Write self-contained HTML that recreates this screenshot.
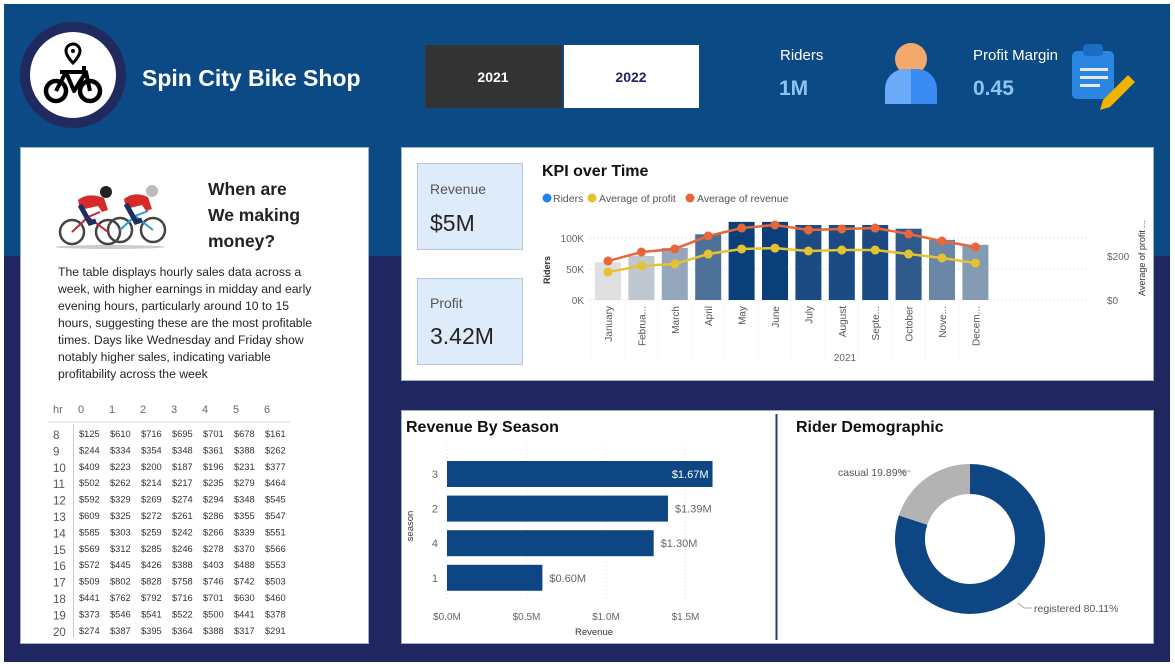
<!DOCTYPE html>
<html><head><meta charset="utf-8"><style>
html,body{margin:0;padding:0;background:#fff;width:1175px;height:664px;overflow:hidden}
svg{display:block;font-family:"Liberation Sans",sans-serif}
</style></head><body>
<svg id="dash" width="1175" height="664" viewBox="0 0 1175 664">
<rect x="4" y="4" width="1166" height="252" fill="#0b4a84"/>
<rect x="4" y="256" width="1166" height="406" fill="#1f2660"/>

<!-- logo -->
<g>
<circle cx="73" cy="75" r="53" fill="#212a5e"/>
<circle cx="73" cy="75" r="43" fill="#fff"/>
<path d="M73 44 a7 7 0 0 1 7 7 c0 5 -7 12 -7 12 c0 0 -7 -7 -7 -12 a7 7 0 0 1 7 -7z" fill="none" stroke="#000" stroke-width="3"/>
<circle cx="73" cy="51" r="2" fill="#000"/>
<circle cx="56" cy="91" r="10" fill="none" stroke="#000" stroke-width="4.5"/>
<circle cx="90" cy="91" r="10" fill="none" stroke="#000" stroke-width="4.5"/>
<path d="M56 91 L66 72 L86 72 L90 91 M60 72 h12 M66 72 L74 91 L86 72 M84 66 v6" fill="none" stroke="#000" stroke-width="4" stroke-linejoin="round"/>
</g>
<text x="142" y="86" font-size="23" font-weight="bold" fill="#fff">Spin City Bike Shop</text>

<!-- year slicer -->
<rect x="425" y="45" width="137" height="63" fill="#333"/>
<text x="493" y="82" text-anchor="middle" font-size="14" font-weight="bold" fill="#fff">2021</text>
<rect x="564" y="45" width="135" height="63" fill="#fff"/>
<text x="631" y="82" text-anchor="middle" font-size="14" font-weight="bold" fill="#1f2660">2022</text>

<!-- header KPIs -->
<text x="780" y="60" font-size="15" fill="#fff">Riders</text>
<text x="779" y="95" font-size="21" font-weight="bold" fill="#8ec3f4">1M</text>
<g>
<circle cx="911" cy="59" r="16" fill="#f4a86b"/>
<path d="M885 104 v-15 a20 20 0 0 1 20 -20 h12 a20 20 0 0 1 20 20 v15 z" fill="#3b8cf2"/>
<path d="M885 104 v-15 a20 20 0 0 1 20 -20 h6 v35 z" fill="#6aaaf7"/>
</g>
<text x="973" y="60" font-size="15" fill="#fff">Profit Margin</text>
<text x="973" y="95" font-size="21" font-weight="bold" fill="#8ec3f4">0.45</text>
<g>
<rect x="1072" y="51" width="42" height="48" rx="5" fill="#2a86e0"/>
<rect x="1083" y="44" width="20" height="12" rx="4" fill="#1a6cc4"/>
<rect x="1080" y="68" width="28" height="3" fill="#e8e8e8"/><rect x="1080" y="76" width="28" height="3" fill="#e8e8e8"/><rect x="1080" y="84" width="20" height="3" fill="#e8e8e8"/>
<path d="M1103 100 l25 -25 l7 7 l-25 25 l-10 3z" fill="#f0b400"/>
</g>

<!-- left panel -->
<rect x="20.5" y="147.5" width="348" height="496" fill="#fff" stroke="#9fb1c9"/>
<g>
<ellipse cx="110" cy="247" rx="55" ry="2" fill="#ccc"/>
<circle cx="72" cy="232" r="12" fill="none" stroke="#444" stroke-width="2.5"/>
<circle cx="108" cy="232" r="12" fill="none" stroke="#444" stroke-width="2.5"/>
<circle cx="120" cy="230" r="12" fill="none" stroke="#444" stroke-width="2.5"/>
<circle cx="153" cy="230" r="12" fill="none" stroke="#444" stroke-width="2.5"/>
<path d="M72 232 L88 217 L108 232 M88 217 L100 212" stroke="#c0243a" stroke-width="2" fill="none"/>
<path d="M120 230 L135 216 L153 230 M135 216 L148 211" stroke="#2a9ad6" stroke-width="2" fill="none"/>
<path d="M78 200 q10 -8 26 -2 l4 12 l-6 2 l-4 -6 l-18 4 z" fill="#d72b2b"/>
<path d="M124 199 q10 -8 24 -2 l4 12 l-6 2 l-4 -6 l-16 4 z" fill="#d72b2b"/>
<circle cx="106" cy="192" r="6" fill="#222"/><circle cx="152" cy="191" r="6" fill="#bbb"/>
<path d="M80 205 l10 18 l6 -2 M126 204 l10 18 l6 -2" stroke="#1e2e5e" stroke-width="5" fill="none"/>
</g>
<g font-size="17.5" font-weight="bold" fill="#222">
<text x="208" y="195">When are</text><text x="208" y="221">We making</text><text x="208" y="247">money?</text>
</g>
<g font-size="12.2" fill="#252423">
<text x="58" y="276">The table displays hourly sales data across a</text>
<text x="58" y="293">week, with higher earnings in midday and early</text>
<text x="58" y="310">evening hours, particularly around 10 to 15</text>
<text x="58" y="327">hours, suggesting these are the most profitable</text>
<text x="58" y="344">times. Days like Wednesday and Friday show</text>
<text x="58" y="361">notably higher sales, indicating variable</text>
<text x="58" y="378">profitability across the week</text>
</g>
<g id="tbl"></g>

<!-- KPI panel -->
<rect x="401.5" y="147.5" width="752" height="233" fill="#fff" stroke="#9fb1c9"/>
<rect x="417.5" y="163.5" width="105" height="86" fill="#deebfb" stroke="#b5c6dc"/>
<text x="430" y="194" font-size="14" fill="#555">Revenue</text>
<text x="430" y="231" font-size="23" fill="#252423">$5M</text>
<rect x="417.5" y="278.5" width="105" height="86" fill="#deebfb" stroke="#b5c6dc"/>
<text x="430" y="308" font-size="14" fill="#555">Profit</text>
<text x="430" y="344" font-size="23" fill="#252423">3.42M</text>
<text x="542" y="176" font-size="16" font-weight="bold" fill="#111">KPI over Time</text>
<g font-size="10.5" fill="#555">
<circle cx="547" cy="198" r="4.5" fill="#1f84f0"/><text x="553" y="202">Riders</text>
<circle cx="592" cy="198" r="4.5" fill="#e4c232"/><text x="599" y="202">Average of profit</text>
<circle cx="690" cy="198" r="4.5" fill="#e8663a"/><text x="697" y="202">Average of revenue</text>
</g>
<g id="kpi"></g>

<!-- revenue by season -->
<rect x="401.5" y="410.5" width="752" height="233" fill="#fff" stroke="#9fb1c9"/>
<line x1="776.5" y1="414" x2="776.5" y2="640" stroke="#1f3f7a" stroke-width="2"/>
<text x="406" y="432" font-size="16" font-weight="bold" fill="#111">Revenue By Season</text>
<g id="season"></g>

<!-- donut -->
<text x="796" y="432" font-size="16" font-weight="bold" fill="#111">Rider Demographic</text>
<g id="donut"></g>
</svg>
<script>
const NS='http://www.w3.org/2000/svg';
function mk(p,tag,a,txt){const e=document.createElementNS(NS,tag);for(const k in a)e.setAttribute(k,a[k]);if(txt!==undefined)e.textContent=txt;p.appendChild(e);return e;}

// ---- hourly table data
const tableHours=[8,9,10,11,12,13,14,15,16,17,18,19,20];
const tableDays=[0,1,2,3,4,5,6];
const tableValues=[
[125,610,716,695,701,678,161],[244,334,354,348,361,388,262],[409,223,200,187,196,231,377],
[502,262,214,217,235,279,464],[592,329,269,274,294,348,545],[609,325,272,261,286,355,547],
[585,303,259,242,266,339,551],[569,312,285,246,278,370,566],[572,445,426,388,403,488,553],
[509,802,828,758,746,742,503],[441,762,792,716,701,630,460],[373,546,541,522,500,441,378],
[274,387,395,364,388,317,291]];
// ---- KPI chart data
const months=['January','Februa...','March','April','May','June','July','August','Septe...','October','Nove...','Decem...'];
const riders=[61000,71000,84000,106000,126000,126000,121000,121000,121000,115000,97000,89000];
const avgProfit=[127,155,164,209,232,236,223,227,227,209,191,168];
const avgRevenue=[177,218,232,291,327,341,318,323,327,300,268,241];
const leftTicks=[0,50000,100000];
const leftTickLabels=['0K','50K','100K'];
const rightTicks=[0,200];
const rightTickLabels=['$0','$200'];
// ---- season data
const seasons=['3','2','4','1'];
const seasonRevenue=[1.67,1.39,1.30,0.60];
const seasonLabels=['$1.67M','$1.39M','$1.30M','$0.60M'];
const seasonTicks=[0,0.5,1.0,1.5];
const seasonTickLabels=['$0.0M','$0.5M','$1.0M','$1.5M'];
// ---- donut data
const segNames=['registered','casual'];
const segValues=[80.11,19.89];

// table
(function(){
 const g=document.getElementById('tbl');
 const t=mk(g,'text',{x:53,y:413,'font-size':11,fill:'#666'},'hr');
 
 
 tableDays.forEach((d,j)=>{const e=mk(g,'text',{x:78+j*31,y:413,'font-size':11,fill:'#666'},String(d));
  
  });
 mk(g,'line',{x1:48,y1:422,x2:290,y2:422,stroke:'#ddd'});
 mk(g,'line',{x1:73.5,y1:424,x2:73.5,y2:637,stroke:'#ccc'});
 tableHours.forEach((h,i)=>{const y=437+i*16.4;
  const e=mk(g,'text',{x:53,y:y+2,'font-size':11.5,fill:'#555'},String(h));
  
  
  tableValues[i].forEach((v,j)=>{const c=mk(g,'text',{x:79+j*31,y:y,'font-size':9.3,fill:'#333'},'$'+v);
   
   });
 });
})();

// KPI chart
(function(){
 const g=document.getElementById('kpi');
 const x0=608,step=33.4,bw=26;
 const xS=i=>x0+i*step;
 const yL=v=>300-v/100000*62;
 const yR=v=>300-v/200*44;
 leftTicks.forEach((v,i)=>{
  mk(g,'line',{x1:590,y1:yL(v),x2:1090,y2:yL(v),stroke:'#ccc','stroke-dasharray':'1 3'});
  const t=mk(g,'text',{x:584,y:yL(v)+4,'text-anchor':'end','font-size':10,fill:'#666'},leftTickLabels[i]);
  
  
 });
 rightTicks.forEach((v,i)=>{
  const t=mk(g,'text',{x:1107,y:yR(v)+4,'font-size':10,fill:'#666'},rightTickLabels[i]);
  
  
 });
 const t1=mk(g,'text',{transform:'translate(550,270) rotate(-90)','text-anchor':'middle','font-size':9,'font-weight':'bold',fill:'#333'},'Riders');
 
 
 const t2=mk(g,'text',{transform:'translate(1145,258) rotate(-90)','text-anchor':'middle','font-size':9,fill:'#333'},'Average of profit ...');
 
 
 const mn=Math.min(...riders),mx=Math.max(...riders);
 const c0=[224,224,224],c1=[11,63,122];
 riders.forEach((v,i)=>{
  const f=(v-mn)/(mx-mn);const c=c0.map((a,k)=>Math.round(a+(c1[k]-a)*f));
  const b=mk(g,'rect',{x:xS(i)-bw/2,y:yL(v),width:bw,height:300-yL(v),fill:`rgb(${c})`});
  
  
  const l=mk(g,'text',{transform:`translate(${xS(i)+4},306) rotate(-90)`,'text-anchor':'end','font-size':10,fill:'#555'},months[i]);
  
  
  mk(g,'line',{x1:xS(i)-step/2,y1:306,x2:xS(i)-step/2,y2:365,stroke:'#e4e4e4','stroke-dasharray':'1 3'});
 });
 const yr=mk(g,'text',{x:845,y:361,'text-anchor':'middle','font-size':10,fill:'#666'},'2021');
 
 
 [[avgRevenue,'#e8663a','revenue'],[avgProfit,'#e4c232','profit']].forEach(([arr,col,nm])=>{
  const p=mk(g,'polyline',{points:arr.map((v,i)=>xS(i)+','+yR(v)).join(' '),fill:'none',stroke:col,'stroke-width':2.5});
  
  
  arr.forEach((v,i)=>{const c=mk(g,'circle',{cx:xS(i),cy:yR(v),r:4.5,fill:col});
   
   });
 });
})();

// season chart
(function(){
 const g=document.getElementById('season');
 const x0=447,sc=159;
 const xS=v=>x0+v*sc;
 seasonTicks.forEach((v,i)=>{
  mk(g,'line',{x1:xS(v),y1:445,x2:xS(v),y2:600,stroke:'#ddd','stroke-dasharray':'1 3'});
  const t=mk(g,'text',{x:xS(v),y:620,'text-anchor':'middle','font-size':10,fill:'#666'},seasonTickLabels[i]);
  
  
 });
 seasons.forEach((s,i)=>{
  const y=461+i*34.6;
  const b=mk(g,'rect',{x:x0,y:y,width:xS(seasonRevenue[i])-x0,height:26,fill:'#0d4682'});
  
  
  const t=mk(g,'text',{x:438,y:y+17,'text-anchor':'end','font-size':11,fill:'#666'},s);
  
  
  const inside=i===0;
  const lb=mk(g,'text',{x:inside?xS(seasonRevenue[i])-4:xS(seasonRevenue[i])+7,y:y+17,'text-anchor':inside?'end':'start','font-size':11,fill:inside?'#fff':'#666'},seasonLabels[i]);
  
  
 });
 const xt=mk(g,'text',{x:594,y:635,'text-anchor':'middle','font-size':9.5,fill:'#333'},'Revenue');
 
 
 const yt=mk(g,'text',{transform:'translate(413,526) rotate(-90)','text-anchor':'middle','font-size':9.5,fill:'#333'},'season');
 
 
})();

// donut
(function(){
 const g=document.getElementById('donut');
 const cx=970,cy=539,R=75,r=45;
 const tot=segValues.reduce((a,b)=>a+b,0);
 const cols=['#0d4682','#b3b3b3'];
 let a=0;
 const pt=(ang,rad)=>[cx+rad*Math.sin(ang),cy-rad*Math.cos(ang)];
 segValues.forEach((v,i)=>{
  const a2=a+v/tot*2*Math.PI;const lg=(a2-a)>Math.PI?1:0;
  const [x1,y1]=pt(a,R),[x2,y2]=pt(a2,R),[x3,y3]=pt(a2,r),[x4,y4]=pt(a,r);
  const p=mk(g,'path',{d:`M${x1} ${y1}A${R} ${R} 0 ${lg} 1 ${x2} ${y2}L${x3} ${y3}A${r} ${r} 0 ${lg} 0 ${x4} ${y4}Z`,fill:cols[i]});
  
  
  a=a2;
 });
 mk(g,'polyline',{points:'1018,603 1024,608 1032,608',fill:'none',stroke:'#aaa'});
 mk(g,'polyline',{points:'905,476 901,471 911,471',fill:'none',stroke:'#aaa'});
 const l1=mk(g,'text',{x:1034,y:612,'font-size':10.5,fill:'#555'},'registered '+segValues[0].toFixed(2)+'%');
 
 
 const l2=mk(g,'text',{x:838,y:476,'font-size':10.5,fill:'#555'},'casual '+segValues[1].toFixed(2)+'%');
 
 
})();
</script>
</body></html>
